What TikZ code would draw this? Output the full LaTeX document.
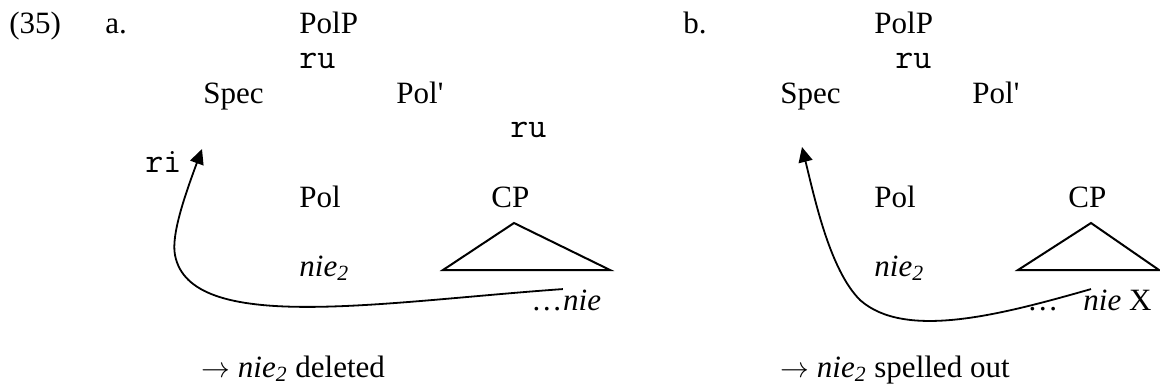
\documentclass[tikz,border=0pt]{standalone}
\usepackage{fontspec}
\newfontfamily\treefont{Liberation Serif}
\usetikzlibrary{arrows.meta,calc}
\newcommand{\nietwo}{\textit{nie}\textsubscript{\textit{2}}}
\tikzset{
  lbl/.style={anchor=base west, inner sep=0pt, font=\fontsize{15.5}{18}\selectfont\treefont},
  branch/.style={anchor=base west, inner sep=0pt, font=\fontsize{17.5}{20}\selectfont\ttfamily},
  treeline/.style={line width=1pt, line join=miter},
  movearrow/.style={-{Triangle[length=7.5pt,width=7pt]}, line width=0.9pt}
}
\begin{document}
\begin{tikzpicture}[x=0.5pt,y=-0.5pt]
  \useasboundingbox (0,0) rectangle (1160,387);
  % (35a)
  \node[lbl] (ex) at (9,33) {(35)};
  \node[lbl] (la) at (105,33) {a.};
  \node[lbl] (polpA) at (299,33) {PolP};
  \node[branch] (ruA1) at (299,68) {ru};
  \node[lbl] (specA) at (203,103) {Spec};
  \node[lbl] (polbarA) at (396,103) {Pol'};
  \node[branch] (ruA2) at (510,137) {ru};
  \node[branch] (riA) at (145,172) {ri};
  \node[lbl] (polA) at (299,207) {Pol};
  \node[lbl] (cpA) at (491,207) {CP};
  \node[lbl] (nieA) at (299,276) {\nietwo};
  \node[lbl] (dotsA) at (531,310) {…};
  \node[lbl] (trcA) at (dotsA.base east) {\textit{nie}};
  \node[lbl] (resA) at (201,377) {$\rightarrow$ \nietwo\ deleted};
  \coordinate (topA) at (514,223);
  \coordinate (leftA) at (443,270);
  \coordinate (rightA) at (610,270);
  \coordinate (tipA) at (202,149);
  \draw[treeline] (topA) -- (leftA) -- (rightA) -- cycle;
  \draw[movearrow] (trcA.north west) .. controls (380,302) and (190,335) .. (175,255)
    .. controls (171,235) and (185,195) .. (tipA);
  % (35b)
  \node[lbl] (lb) at (683,33) {b.};
  \node[lbl] (polpB) at (874,33) {PolP};
  \node[branch] (ruB1) at (895,68) {ru};
  \node[lbl] (specB) at (780,103) {Spec};
  \node[lbl] (polbarB) at (972,103) {Pol'};
  \node[lbl] (polB) at (874,207) {Pol};
  \node[lbl] (cpB) at (1068,207) {CP};
  \node[lbl] (nieB) at (874,276) {\nietwo};
  \node[lbl] (dotsB) at (1027,310) {…};
  \node[lbl] (trcB) at (1083,310) {\textit{nie} X};
  \node[lbl] (resB) at (780,377) {$\rightarrow$ \nietwo\ spelled out};
  \coordinate (topB) at (1091,223);
  \coordinate (leftB) at (1018,270);
  \coordinate (rightB) at (1159,270);
  \coordinate (tipB) at (802,147);
  \draw[treeline] (topB) -- (leftB) -- (rightB) -- cycle;
  \draw[movearrow] ($(trcB.north west)+(8,0)$) .. controls (1000,315) and (905,340) .. (860,300)
    .. controls (830,270) and (815,200) .. (tipB);
\end{tikzpicture}
\end{document}
